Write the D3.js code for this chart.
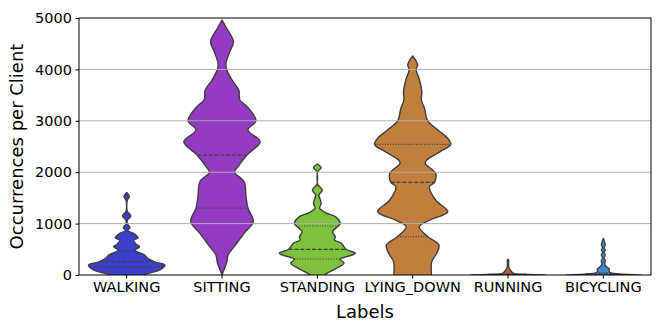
<!DOCTYPE html>
<html><head><meta charset="utf-8">
<script src="https://cdn.jsdelivr.net/npm/d3@7"></script>
<style>body{margin:0;background:#fff}svg{display:block}text{font-family:"DejaVu Sans",sans-serif}</style>
</head><body><svg id="c" width="664" height="332"></svg>
<script>
const categories = ["WALKING","SITTING","STANDING","LYING_DOWN","RUNNING","BICYCLING"];
const colors = ["#3b3fcb","#933bc3","#7dc13c","#c17f3e","#c55a3a","#4587c8"];
const yTicks = [0,1000,2000,3000,4000,5000];
// density profiles: [value, relative density]
const walkingDensity = [[1600,0],[1590,0.02],[1523,0.07],[1460,0.02],[1440,0.012],[1250,0.012],[1232,0.02],[1148,0.11],[1070,0.02],[990,0.02],[928,0.09],[860,0.03],[811,0.18],[720,0.3],[680,0.18],[600,0.25],[551,0.34],[480,0.22],[389,0.47],[325,0.55],[250,0.75],[195,1.0],[97,0.87],[33,0.58],[0,0.45],[-100,0.12],[-200,0]];
const sittingDensity = [[4960,0],[4800,0.12],[4539,0.3],[4339,0.2],[4125,0.105],[4002,0.12],[3794,0.26],[3600,0.44],[3405,0.47],[3274,0.66],[3002,0.89],[2821,0.68],[2593,1.0],[2340,0.66],[2107,0.42],[1998,0.33],[1815,0.58],[1523,0.63],[1303,0.68],[1037,0.82],[811,0.58],[551,0.32],[389,0.16],[233,0.12],[97,0.05],[0,0]];
const standingDensity = [[2160,0],[2088,0.1],[2010,0.01],[1760,0.01],[1751,0.02],[1654,0.13],[1556,0.04],[1523,0.05],[1395,0.1],[1297,0.06],[1200,0.25],[1135,0.47],[1005,0.6],[953,0.55],[843,0.4],[745,0.47],[681,0.45],[617,0.63],[500,0.75],[422,1.0],[356,0.77],[311,0.6],[228,0.7],[130,0.5],[33,0.25],[0,0.2],[-100,0.05],[-200,0]];
const lyingDensity = [[4261,0],[4086,0.13],[4000,0.09],[3794,0.18],[3566,0.24],[3405,0.23],[3243,0.31],[3002,0.39],[2821,0.66],[2659,0.92],[2543,1.0],[2399,0.72],[2237,0.37],[2173,0.33],[1978,0.6],[1803,0.57],[1718,0.44],[1459,0.6],[1232,0.92],[1070,0.46],[940,0.17],[745,0.4],[584,0.69],[422,0.63],[259,0.5],[33,0.49],[0,0.49],[-200,0.4],[-400,0.2],[-600,0]];
const runningDensity = [[305,0],[290,0.015],[200,0.015],[130,0.03],[100,0.06],[60,0.1],[30,0.15],[15,0.4],[0,1.0],[-20,0.6],[-60,0]];
const bicyclingDensity = [[713,0],[650,0.03],[584,0.05],[530,0.02],[486,0.05],[440,0.02],[389,0.05],[330,0.02],[280,0.05],[200,0.04],[140,0.12],[110,0.16],[70,0.15],[40,0.2],[15,0.5],[0,1.0],[-20,0.6],[-60,0]];
const densities = [walkingDensity,sittingDensity,standingDensity,lyingDensity,runningDensity,bicyclingDensity];
// quartiles [Q1, median, Q3]
const quartiles = [[150,260,460],[1300,2333,3000],[311,500,953],[745,1803,2543],[5,12,25],[8,20,45]];

const svg = d3.select("#c");
const L=79,R=651,T=18,B=275;
const x = d3.scaleBand().domain(categories).range([L,R]).padding(0);
const y = d3.scaleLinear().domain([0,5000]).range([B,T]);
const hw = x.bandwidth()*0.4;

svg.append("defs").append("clipPath").attr("id","pc").append("rect")
  .attr("x",L).attr("y",T).attr("width",R-L).attr("height",B-T);

const g = svg.append("g").attr("clip-path","url(#pc)");
function widthAt(prof,v){
  for(let i=0;i<prof.length-1;i++){
    const a=prof[i],b=prof[i+1];
    if(v<=a[0]&&v>=b[0]){const t=(a[0]-v)/(a[0]-b[0]);return a[1]+(b[1]-a[1])*t;}
  }
  return 0;
}
categories.forEach((c,i)=>{
  const cx = x(c)+x.bandwidth()/2;
  const prof = densities[i];
  const area = d3.area().curve(d3.curveCatmullRom.alpha(0.5))
    .y(d=>y(d[0])).x0(d=>cx-d[1]*hw).x1(d=>cx+d[1]*hw);
  g.append("path").datum(prof.slice().reverse()).attr("d",area)
    .attr("fill",colors[i]).attr("stroke","#3f3f3f").attr("stroke-width",1.4).attr("stroke-linejoin","round");
  quartiles[i].forEach((q,k)=>{
    const w = widthAt(prof,q)*hw;
    g.append("line").attr("x1",cx-w).attr("x2",cx+w).attr("y1",y(q)).attr("y2",y(q))
      .attr("stroke","#3f3f3f").attr("stroke-width",1.2)
      .attr("stroke-dasharray",k===1?"4,1.8":"1,1.6");
  });
});

// grid on top
svg.append("g").selectAll("line").data(yTicks.filter(t=>t>0&&t<5000)).join("line")
  .attr("x1",L).attr("x2",R).attr("y1",d=>y(d)).attr("y2",d=>y(d))
  .attr("stroke","#b0b0b0").attr("stroke-width",1);

// axes
const ya = svg.append("g").attr("transform",`translate(${L},0)`)
  .call(d3.axisLeft(y).tickValues(yTicks).tickSize(3.5).tickPadding(3.5).tickFormat(d3.format("d")));
const xa = svg.append("g").attr("transform",`translate(0,${B})`)
  .call(d3.axisBottom(x).tickSize(3.5).tickPadding(3.5));
[ya,xa].forEach(a=>{a.select(".domain").remove();a.selectAll("text").attr("font-size","14.5px").attr("fill","#000").attr("font-family","DejaVu Sans");a.selectAll("line").attr("stroke","#000");});

svg.append("rect").attr("x",L).attr("y",T).attr("width",R-L).attr("height",B-T)
  .attr("fill","none").attr("stroke","#000").attr("stroke-width",1);

svg.append("text").attr("x",(L+R)/2).attr("y",318).attr("text-anchor","middle")
  .attr("font-size","18px").text("Labels");
svg.append("text").attr("transform",`translate(23,${(T+B)/2}) rotate(-90)`).attr("text-anchor","middle")
  .attr("font-size","18px").text("Occurrences per Client");
</script></body></html>
